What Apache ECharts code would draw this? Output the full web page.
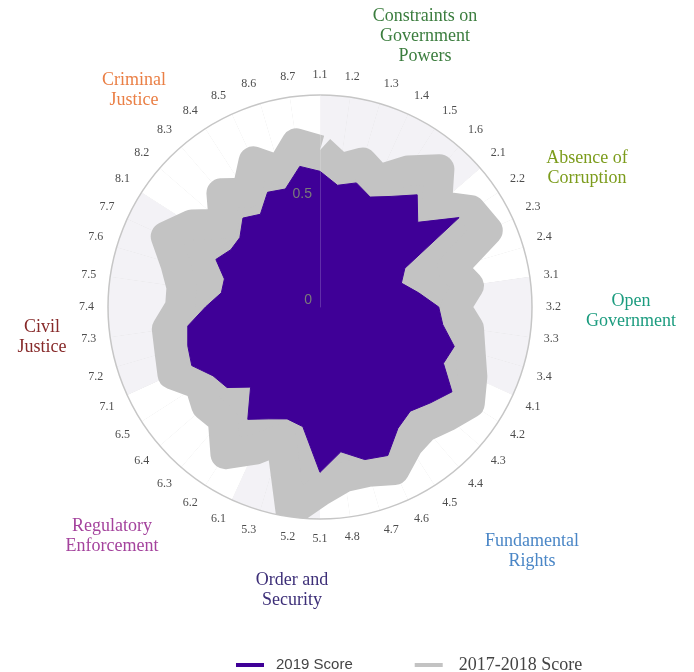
<!DOCTYPE html>
<html>
<head>
<meta charset="utf-8">
<script src="https://cdn.jsdelivr.net/npm/echarts@6/dist/echarts.min.js"></script>
<style>
html,body{margin:0;padding:0;background:#fff;}
#main{width:694px;height:672px;}
</style>
</head>
<body>
<div id="main"></div>
<script>
// sub-factor labels, clockwise from top
var subFactors = ['1.1','1.2','1.3','1.4','1.5','1.6','2.1','2.2','2.3','2.4','3.1','3.2','3.3','3.4',
	'4.1','4.2','4.3','4.4','4.5','4.6','4.7','4.8','5.1','5.2','5.3','6.1','6.2','6.3','6.4','6.5',
	'7.1','7.2','7.3','7.4','7.5','7.6','7.7','8.1','8.2','8.3','8.4','8.5','8.6','8.7'];

var score2019 = [0.64,0.58,0.61,0.57,0.62,0.70,0.61,0.78,0.44,0.40,0.47,0.56,0.585,0.66,
	0.64,0.74,0.69,0.65,0.68,0.77,0.75,0.69,0.78,0.57,0.55,0.58,0.63,0.50,0.58,0.60,
	0.665,0.65,0.63,0.54,0.47,0.47,0.54,0.50,0.50,0.555,0.52,0.595,0.58,0.67];

var score2017 = [0.74,0.66,0.71,0.66,0.765,0.86,0.73,0.845,0.87,0.65,0.71,0.64,0.71,0.74,
	0.79,0.84,0.79,0.75,0.77,0.845,0.81,0.81,0.87,0.975,0.65,0.74,0.825,0.70,0.71,0.675,
	0.765,0.74,0.73,0.66,0.66,0.71,0.80,0.72,0.60,0.71,0.64,0.755,0.67,0.78];

// factor groups: name and number of sub-factors
var factorNames = ['Constraints on\nGovernment\nPowers','Absence of\nCorruption','Open\nGovernment',
	'Fundamental\nRights','Order and\nSecurity','Regulatory\nEnforcement','Civil\nJustice','Criminal\nJustice'];
var factorSizes = [6,4,4,8,3,5,7,7];

var factorColors = ['#3b7d3e','#7c9c1c','#1c9c7f','#4a86c6','#3d2f78','#a4439d','#872a2a','#ea7f45'];
var factorPos = [[425,16],[587,158],[631,301],[532,541],[292,580],[112,526],[42,327],[134,80]];

// shaded / white sector per sub-factor, alternating by factor
var areaColors = [];
factorSizes.forEach(function(n, k){
	for (var i = 0; i < n; i++) {
		areaColors.push(k % 2 == 0 ? '#f3f2f6' : '#ffffff');
	}
});

// polar line needs the first point repeated to close
function loop(arr){
	var d = arr.map(function(v, i){ return [v, i]; });
	d.push([arr[0], arr.length]);
	return d;
}

var graphics = factorNames.map(function(name, k){
	var lines = name.split('\n').length;
	return {
		type: 'text',
		x: factorPos[k][0],
		y: factorPos[k][1] + (lines - 1) * 10,
		style: {
			text: name,
			fill: factorColors[k],
			font: '18px "Liberation Serif"',
			align: 'center',
			verticalAlign: 'middle',
			lineHeight: 20
		}
	};
});

var myChart = echarts.init(document.getElementById('main'));
var option = {
	animation: false,
	polar: {
		center: [320, 307],
		radius: 212
	},
	angleAxis: {
		type: 'value',
		min: 0,
		max: subFactors.length,
		interval: 1,
		startAngle: 90,
		clockwise: true,
		axisLine: { lineStyle: { color: '#c6c6c6', width: 1.5 } },
		axisTick: { show: false },
		axisLabel: {
			margin: 14,
			color: '#4d4d4d',
			fontFamily: 'Liberation Serif',
			fontSize: 12,
			formatter: function(v){ return subFactors[v] || ''; }
		},
		splitLine: { show: true, lineStyle: { color: '#d9d9d9', width: 1 } },
		splitArea: { show: true, areaStyle: { color: areaColors } }
	},
	radiusAxis: {
		min: 0,
		max: 1,
		interval: 0.5,
		z: 10,
		axisLine: { show: true, lineStyle: { color: 'rgba(255,255,255,0.18)', width: 1 } },
		axisTick: { show: false },
		splitLine: { show: false },
		axisLabel: {
			showMaxLabel: false,
			color: '#7a7a7a',
			fontSize: 14,
			fontFamily: 'Liberation Sans',
			verticalAlign: 'bottom'
		}
	},
	legend: {
		left: 231,
		top: 651,
		itemGap: 62,
		itemWidth: 28,
		itemHeight: 4,
		icon: 'rect',
		textStyle: { color: '#444', fontSize: 15 },
		data: [
			{ name: '2019 Score', textStyle: { fontFamily: 'Liberation Sans', fontSize: 15, padding: [0, 0, 0, 7] } },
			{ name: '2017-2018 Score', textStyle: { fontFamily: 'Liberation Serif', fontSize: 18, padding: [0, 0, 0, 11] } }
		]
	},
	graphic: graphics,
	series: [
		{
			name: '2017-2018 Score',
			type: 'line',
			coordinateSystem: 'polar',
			data: loop(score2017),
			symbol: 'none',
			clip: false,
			color: '#c3c3c3',
			lineStyle: { color: '#c3c3c3', width: 30, join: 'round', cap: 'butt' },
			areaStyle: { color: '#c3c3c3', opacity: 1 },
			z: 2
		},
		{
			name: '2019 Score',
			type: 'line',
			coordinateSystem: 'polar',
			data: loop(score2019),
			symbol: 'none',
			clip: false,
			color: '#3f0097',
			lineStyle: { color: '#3f0097', width: 1 },
			areaStyle: { color: '#3f0097', opacity: 1 },
			z: 3
		}
	]
};
myChart.setOption(option);
</script>
</body>
</html>
